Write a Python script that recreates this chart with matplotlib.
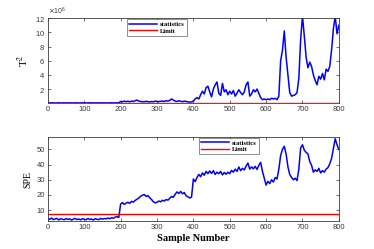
import numpy as np
import matplotlib
matplotlib.use("Agg")
import matplotlib.pyplot as plt

# ---- data (one value every 5 samples) ----
sample = np.arange(0, 801, 5)

t2_stat = [  # x 1e6
    0.05, 0.04, 0.06, 0.05, 0.03, 0.05, 0.06, 0.04, 0.05, 0.05,
    0.04, 0.06, 0.05, 0.05, 0.04, 0.06, 0.05, 0.04, 0.05, 0.06,
    0.05, 0.04, 0.05, 0.06, 0.05, 0.04, 0.05, 0.05, 0.06, 0.04,
    0.05, 0.06, 0.04, 0.05, 0.05, 0.06, 0.04, 0.05, 0.06, 0.05,
    0.25, 0.20, 0.30, 0.22, 0.28, 0.20, 0.30, 0.25, 0.35, 0.45,
    0.30, 0.25, 0.22, 0.20, 0.28, 0.22, 0.18, 0.25, 0.20, 0.30,
    0.25, 0.22, 0.28, 0.30, 0.25, 0.35, 0.30, 0.40, 0.60, 0.45,
    0.30, 0.25, 0.35, 0.28, 0.22, 0.30, 0.25, 0.20, 0.15, 0.20,
    0.3, 0.6, 0.8, 0.6, 1.2, 1.7, 1.3, 2.2, 2.4, 1.6,
    0.9, 2.0, 2.6, 3.0, 1.4, 1.1, 2.8, 1.6, 1.9, 1.2,
    1.7, 1.3, 1.8, 1.0, 1.4, 1.9, 1.5, 1.2, 1.6, 2.6,
    3.0, 1.0, 1.3, 1.9, 1.6, 2.0, 1.4, 0.8, 0.5, 0.6,
    0.5, 0.6, 0.5, 0.7, 0.6, 0.7, 0.5, 1.0, 6.0, 7.5,
    10.2, 6.5, 4.0, 1.5, 1.0, 1.1, 1.2, 1.5, 3.5, 9.0,
    12.3, 9.5, 6.5, 5.0, 5.8, 5.2, 4.0, 3.2, 2.6, 3.8,
    3.4, 4.2, 3.3, 4.8, 4.5, 5.2, 7.5, 10.5, 12.3, 9.8,
    11.0,
]
t2_limit = 0.08  # x 1e6

spe_stat = [
    4.5, 4.0, 4.8, 3.8, 4.2, 4.6, 3.6, 4.4, 4.0, 3.7,
    4.5, 3.9, 4.3, 3.5, 4.1, 4.6, 3.8, 4.2, 3.6, 4.4,
    4.0, 3.7, 4.5, 3.9, 4.2, 3.5, 4.4, 4.0, 3.8, 4.6,
    4.1, 4.5, 4.3, 4.8, 4.4, 5.0, 4.7, 5.4, 5.8, 5.2,
    14.0, 15.0, 13.8, 14.6, 15.2, 14.5, 15.8, 15.3, 16.4, 17.2,
    18.0, 19.2, 19.8, 20.3, 19.0, 19.6, 18.2, 17.0, 15.5, 14.8,
    15.2, 16.0, 15.5, 16.5, 16.0, 17.0, 16.6, 17.8, 19.0, 18.5,
    20.5, 22.0, 21.0, 22.3, 20.8, 21.6, 19.5, 18.8, 18.0, 18.6,
    30.5, 28.8, 31.5, 33.5, 32.0, 34.5, 33.0, 35.5, 34.0, 35.8,
    34.2, 36.0, 33.5, 35.0, 34.0, 35.5, 33.2, 34.8, 33.6, 35.0,
    34.0, 36.2, 35.0, 37.0, 35.5, 38.4, 36.0, 37.5, 36.5, 39.0,
    41.0, 37.0, 38.5, 37.2, 38.8, 36.8, 39.5, 41.5, 35.5, 31.0,
    26.5, 29.0, 27.5, 30.0, 28.5, 31.5, 30.5, 37.0, 46.0, 50.0,
    52.0, 47.0, 38.5, 33.5, 31.5, 30.0, 31.0, 29.5, 37.0, 51.0,
    53.0, 49.5, 48.0, 47.0, 42.0, 39.5, 35.0, 36.5, 35.5, 37.5,
    34.5, 36.0, 35.0, 37.0, 38.0, 40.5, 44.0, 50.5, 57.0, 53.0,
    50.0,
]
spe_limit = 7.2

AX_GRAY = "#3a3a3a"
SERIF = "Liberation Serif"
SANS = "Liberation Sans"

fig = plt.figure(figsize=(3.74, 2.49), dpi=100)
ax1 = fig.add_axes([0.128, 0.586, 0.778, 0.341])
ax2 = fig.add_axes([0.128, 0.112, 0.778, 0.337])


def style(ax):
    for sp in ax.spines.values():
        sp.set_color(AX_GRAY)
        sp.set_linewidth(0.6)
    ax.tick_params(direction="in", top=True, right=True, length=2.5, width=0.5,
                   color=AX_GRAY, labelcolor=AX_GRAY, labelsize=5.5, pad=2)
    for lab in ax.get_xticklabels() + ax.get_yticklabels():
        lab.set_fontfamily(SANS)
    ax.set_xlim(0, 800)
    ax.set_xticks(range(0, 801, 100))


# T^2 chart
ax1.plot(sample, np.array(t2_stat) * 1e6, color="#0000ff", lw=1.1, label="statistics")
ax1.axhline(t2_limit * 1e6, color="#ff0000", lw=1.0, label="Limit")
ax1.set_ylim(0.02e6, 12e6)
ax1.set_yticks(np.arange(2, 13, 2) * 1e6)
ax1.ticklabel_format(axis="y", style="sci", scilimits=(6, 6), useMathText=True)
style(ax1)
ax1.yaxis.get_offset_text().set_fontsize(5)
ax1.yaxis.get_offset_text().set_color(AX_GRAY)
ax1.yaxis.get_offset_text().set_fontfamily(SANS)
ax1.set_ylabel("T$^2$", fontfamily=SERIF, fontsize=8, labelpad=3,
               math_fontfamily="stix")
leg1 = ax1.legend(loc="upper left", bbox_to_anchor=(0.271, 0.985),
                  prop={"family": SERIF, "weight": "bold", "size": 4.8},
                  frameon=True, fancybox=False, edgecolor=AX_GRAY,
                  handlelength=4.2, handletextpad=0.5, borderpad=0.3,
                  labelspacing=0.15, borderaxespad=0)
leg1.get_frame().set_linewidth(0.5)

# SPE chart
ax2.plot(sample, spe_stat, color="#0000ff", lw=1.1, label="statistics")
ax2.axhline(spe_limit, color="#ff0000", lw=1.0, label="Limit")
ax2.set_ylim(2.8, 58)
ax2.set_yticks([10, 20, 30, 40, 50])
style(ax2)
ax2.set_ylabel("SPE", fontfamily=SERIF, fontsize=7, labelpad=3)
ax2.set_xlabel("Sample Number", fontfamily=SERIF, fontweight="bold", fontsize=7.5,
               labelpad=2.5)
leg2 = ax2.legend(loc="upper left", bbox_to_anchor=(0.519, 0.99),
                  prop={"family": SERIF, "weight": "bold", "size": 4.8},
                  frameon=True, fancybox=False, edgecolor=AX_GRAY,
                  handlelength=4.2, handletextpad=0.5, borderpad=0.3,
                  labelspacing=0.15, borderaxespad=0)
leg2.get_frame().set_linewidth(0.5)

fig.savefig("out.png", dpi=100)
